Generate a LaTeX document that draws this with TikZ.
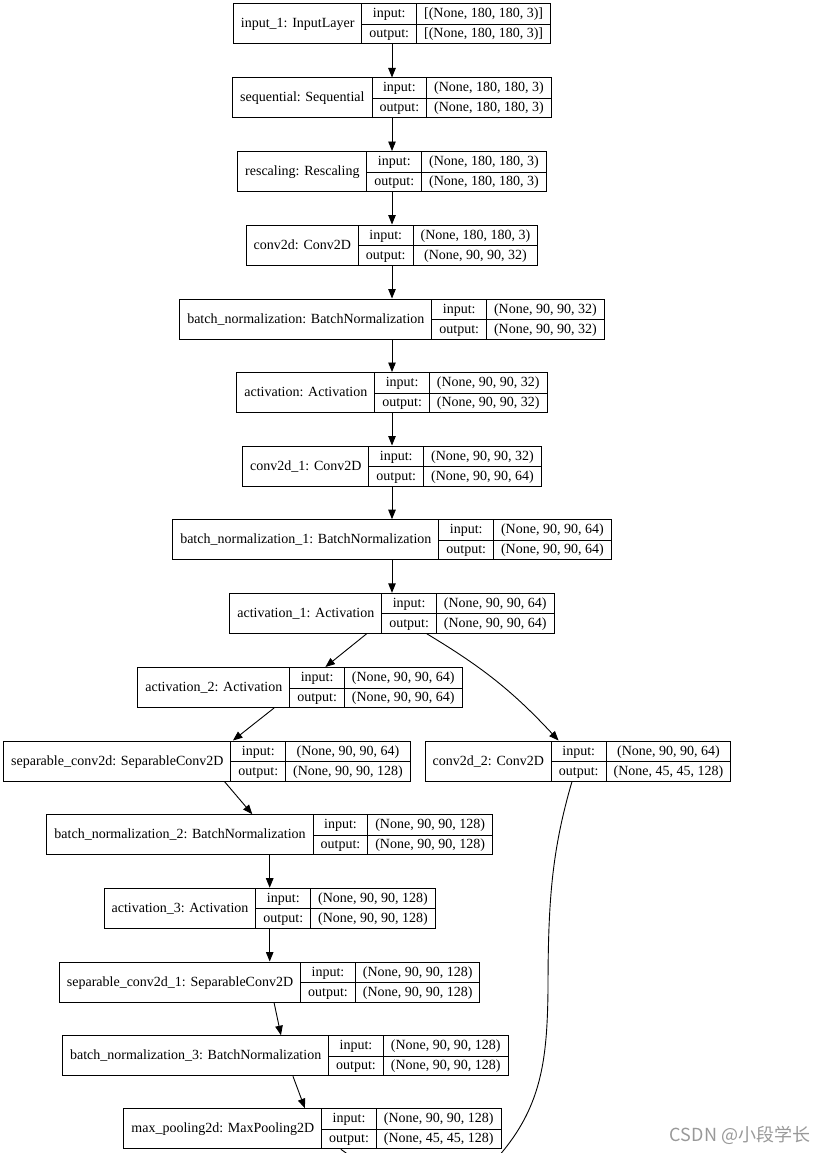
\documentclass[tikz,border=0pt]{standalone}
\usepackage{fontspec}
\setmainfont{Liberation Serif}
\newfontfamily\cjk{Noto Sans CJK SC}
\usetikzlibrary{positioning, calc, arrows.meta}

\setlength{\tabcolsep}{7.5pt}
\setlength{\arrayrulewidth}{1pt}
\renewcommand{\arraystretch}{1.25}

% one record box: name, centre, label, input shape, output shape
\newcommand{\layerbox}[5]{%
  \node[layer] (#1) at (#2) {%
    \begin{tabular}{c|c|c}
      \raisebox{-10pt}[0pt][0pt]{#3} & input: & #4 \\ \cline{2-3}
      & output: & #5
    \end{tabular}};%
}

\begin{document}
\begin{tikzpicture}[x=1pt, y=-1pt, >={Triangle[length=9.5pt,width=7.5pt]},
    layer/.style={draw, line width=1pt, inner sep=0pt, font=\fontsize{14}{16}\selectfont},
    edge/.style={->, line width=0.9pt}]
    \useasboundingbox (0,0) rectangle (824,1153);
    \clip (0,0) rectangle (824,1153);

    % Main chain
    \layerbox{in1}{392,24}{input\_1: InputLayer}{[(None, 180, 180, 3)]}{[(None, 180, 180, 3)]}
    \layerbox{seq}{392,98}{sequential: Sequential}{(None, 180, 180, 3)}{(None, 180, 180, 3)}
    \layerbox{resc}{392,171.5}{rescaling: Rescaling}{(None, 180, 180, 3)}{(None, 180, 180, 3)}
    \layerbox{conv}{392,245}{conv2d: Conv2D}{(None, 180, 180, 3)}{(None, 90, 90, 32)}
    \layerbox{bn}{392,319}{batch\_normalization: BatchNormalization}{(None, 90, 90, 32)}{(None, 90, 90, 32)}
    \layerbox{act}{392,392.5}{activation: Activation}{(None, 90, 90, 32)}{(None, 90, 90, 32)}
    \layerbox{conv1}{392,466}{conv2d\_1: Conv2D}{(None, 90, 90, 32)}{(None, 90, 90, 64)}
    \layerbox{bn1}{392,539.7}{batch\_normalization\_1: BatchNormalization}{(None, 90, 90, 64)}{(None, 90, 90, 64)}
    \layerbox{act1}{392,613.3}{activation\_1: Activation}{(None, 90, 90, 64)}{(None, 90, 90, 64)}

    % Left branch
    \layerbox{act2}{300,687.5}{activation\_2: Activation}{(None, 90, 90, 64)}{(None, 90, 90, 64)}
    \layerbox{sep}{207,761}{separable\_conv2d: SeparableConv2D}{(None, 90, 90, 64)}{(None, 90, 90, 128)}
    \layerbox{bn2}{269.7,834.7}{batch\_normalization\_2: BatchNormalization}{(None, 90, 90, 128)}{(None, 90, 90, 128)}
    \layerbox{act3}{269.7,908.2}{activation\_3: Activation}{(None, 90, 90, 128)}{(None, 90, 90, 128)}
    \layerbox{sep1}{269.7,982}{separable\_conv2d\_1: SeparableConv2D}{(None, 90, 90, 128)}{(None, 90, 90, 128)}
    \layerbox{bn3}{285.3,1055.7}{batch\_normalization\_3: BatchNormalization}{(None, 90, 90, 128)}{(None, 90, 90, 128)}
    \layerbox{pool}{312.5,1128.7}{max\_pooling2d: MaxPooling2D}{(None, 90, 90, 128)}{(None, 45, 45, 128)}

    % Right branch
    \layerbox{conv2}{578,761}{conv2d\_2: Conv2D}{(None, 90, 90, 64)}{(None, 45, 45, 128)}

    % Next layer, below the cut
    \coordinate (add) at (400,1192);
    \coordinate (addin) at (470,1185);

    % Edges
    \draw[edge] (in1) -- (seq);
    \draw[edge] (seq) -- (resc);
    \draw[edge] (resc) -- (conv);
    \draw[edge] (conv) -- (bn);
    \draw[edge] (bn) -- (act);
    \draw[edge] (act) -- (conv1);
    \draw[edge] (conv1) -- (bn1);
    \draw[edge] (bn1) -- (act1);
    \draw[edge] (act1) -- (act2);
    \draw[edge] (act1) to[bend left=8] (conv2);
    \draw[edge] (act2) -- (sep);
    \draw[edge] (sep) -- (bn2);
    \draw[edge] (bn2) -- (act3);
    \draw[edge] (act3) -- (sep1);
    \draw[edge] (sep1) -- (bn3);
    \draw[edge] (bn3) -- (pool);
    \draw[edge] (pool) -- (add);
    \draw[edge] ([xshift=-6pt]conv2.south) .. controls (552,850) and (548,900) .. (548,990)
        .. controls (547,1070) and (540,1120) .. (addin);

    % Watermark
    \node[text=black!40, font=\cjk\fontsize{18}{20}\selectfont] (mark) at (740,1135) {CSDN @小段学长};
\end{tikzpicture}
\end{document}
